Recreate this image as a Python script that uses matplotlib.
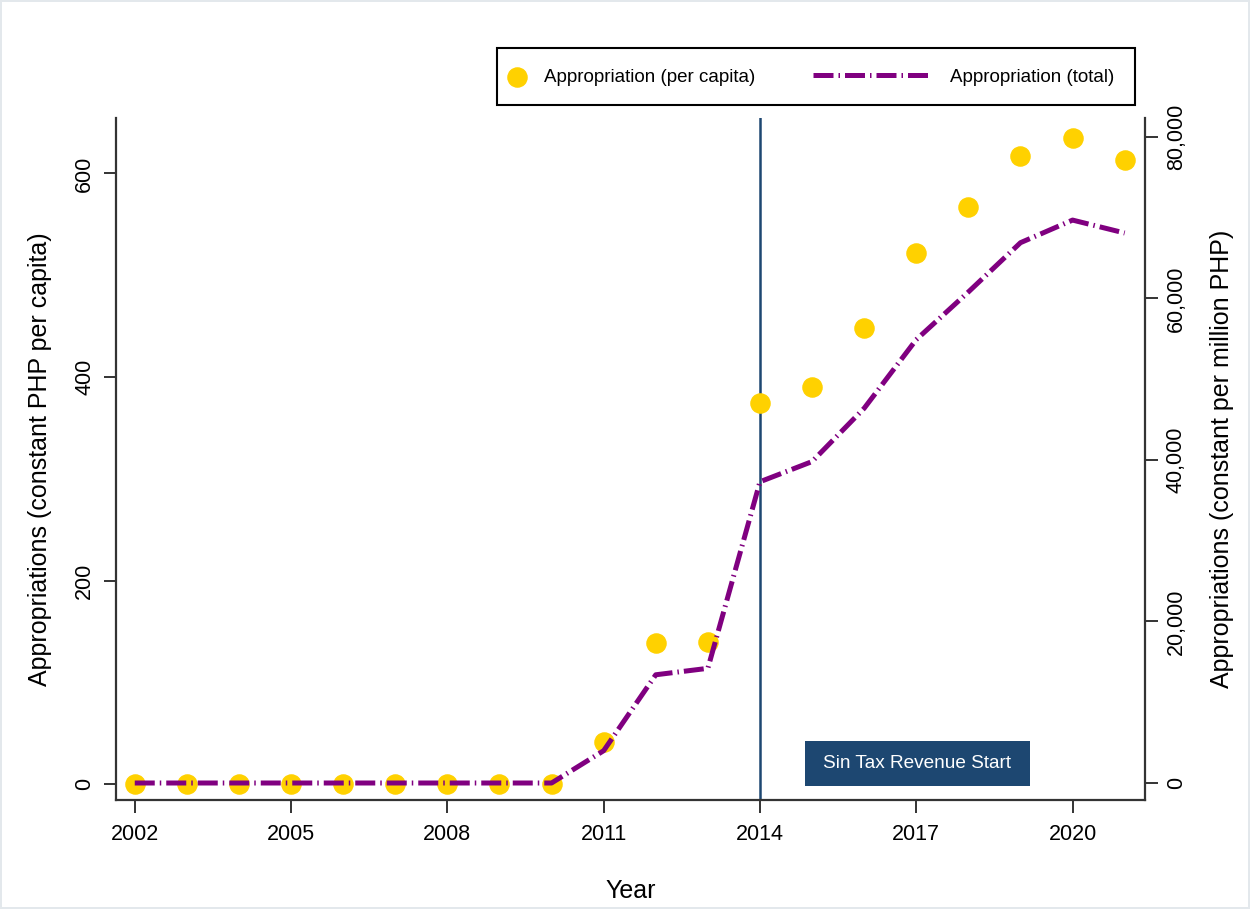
import matplotlib.pyplot as plt
from matplotlib.ticker import FuncFormatter
from matplotlib.patches import Rectangle

plt.rcParams['font.family'] = ['Liberation Sans', 'DejaVu Sans']

years = list(range(2002, 2022))
per_capita = [0, 0, 0, 0, 0, 0, 0, 0, 0, 41, 139, 140, 374, 390, 448, 522, 567, 617, 635, 613]
total = [0, 0, 0, 0, 0, 0, 0, 0, 0, 4000, 13400, 14200, 37300, 39800, 46400, 54900,
         60800, 66900, 69700, 68100]
x_ticks = [2002, 2005, 2008, 2011, 2014, 2017, 2020]
left_ticks = [0, 200, 400, 600]
right_ticks = [0, 20000, 40000, 60000, 80000]

gold = '#FFD100'
purple = '#800080'
navy = '#1D4771'

fig = plt.figure(figsize=(12.5, 9.09), dpi=100)
fig.patch.set_edgecolor('#E3E8EC')
fig.patch.set_linewidth(1.5)
ax = fig.add_axes([116 / 1250, 1 - 800 / 909, (1145 - 116) / 1250, (800 - 118) / 909])
ax2 = ax.twinx()

pc = ax.scatter(years, per_capita, s=190, color=gold, zorder=3, label='Appropriation (per capita)')
tl, = ax2.plot(years, total, color=purple, lw=3.6, dashes=(4, 1, 0.3, 1),
               label='Appropriation (total)', zorder=4)

ax.axvline(2014, color=navy, lw=1.8, zorder=2)

ax.set_xlim(2001.64, 2021.39)
ax.set_ylim(-15.7, 654.5)
ax2.set_ylim(-2105, 82340)

ax.set_xticks(x_ticks)
ax.set_yticks(left_ticks)
ax2.set_yticks(right_ticks)
ax2.yaxis.set_major_formatter(FuncFormatter(lambda v, p: f'{int(v):,}'))

for a in (ax, ax2):
    a.tick_params(direction='out', length=9, width=1.4, labelsize=15.5, color='#333333', pad=6)
    for s in a.spines.values():
        s.set_linewidth(1.6)
        s.set_color('#333333')
    a.spines['top'].set_visible(False)
ax.tick_params(axis='x', pad=8)
ax.spines['right'].set_visible(False)
ax2.spines['left'].set_visible(False)
ax2.spines['bottom'].set_visible(False)
for lab in ax.get_yticklabels() + ax2.get_yticklabels():
    lab.set_rotation(90)
    lab.set_va('center')

ax.set_xlabel('Year', fontsize=18, labelpad=25)
ax.set_ylabel('Appropriations (constant PHP per capita)', fontsize=18, labelpad=16)
ax2.set_ylabel('Appropriations (constant per million PHP)', fontsize=18, labelpad=17)

# annotation box
ax.add_patch(Rectangle((2014.86, -2), 4.32, 44.3, fc=navy, ec='none', zorder=5))
ax.text(2017.02, 20, 'Sin Tax Revenue Start', color='white', fontsize=13.7,
        ha='center', va='center', zorder=6)

# legend: frame plus two entries
fig.add_artist(Rectangle((497 / 1250, 1 - 105 / 909), 638 / 1250, 57 / 909,
                         transform=fig.transFigure, fill=False, ec='black', lw=1.5))
ly = 1 - 77 / 909
fig.legend(handles=[pc], loc='center left', bbox_to_anchor=(505 / 1250, ly),
           fontsize=13.5, frameon=False, handlelength=1.28, handletextpad=0.8,
           borderpad=0, borderaxespad=0)
fig.legend(handles=[tl], loc='center left', bbox_to_anchor=(813 / 1250, ly),
           fontsize=13.5, frameon=False, handlelength=6.35, handletextpad=0.96,
           borderpad=0, borderaxespad=0)

fig.savefig('out.png', dpi=100)
